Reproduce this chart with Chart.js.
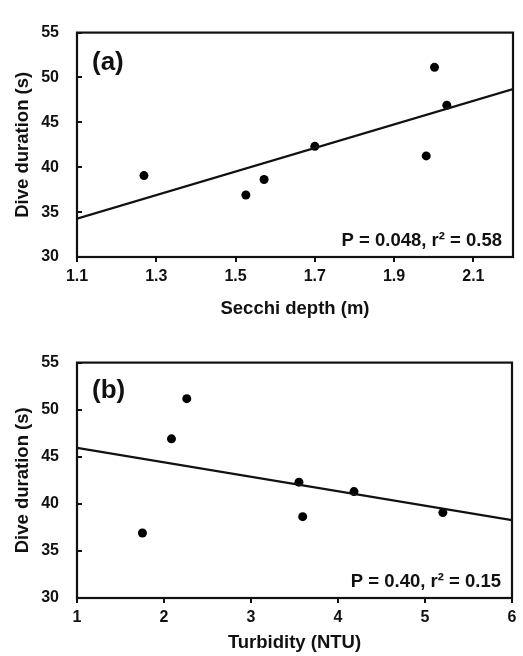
<!DOCTYPE html>
<html>
<head>
<meta charset="utf-8">
<script src="https://cdn.jsdelivr.net/npm/chart.js@4/dist/chart.umd.min.js"></script>
<style>
  html, body { margin: 0; padding: 0; background: #fff; }
  canvas { display: block; }
</style>
</head>
<body>
<canvas id="ca" width="523" height="330"></canvas>
<canvas id="cb" width="523" height="326"></canvas>
<script>
// ---- Data ----
const yTicks = [30, 35, 40, 45, 50, 55];

// Panel (a): Secchi depth vs dive duration
const secchiDepth = [1.269, 1.526, 1.572, 1.700, 1.981, 2.002, 2.033];
const diveDurationA = [39.07, 36.91, 38.63, 42.33, 41.26, 51.13, 46.91];
const fitA_x = [1.1, 2.2];
const fitA_y = [34.27, 48.70];
const xTicksA = [1.1, 1.3, 1.5, 1.7, 1.9, 2.1];
const statA = 'P = 0.048, r\u00B2 = 0.58';

// Panel (b): Turbidity vs dive duration
const turbidity = [1.752, 2.086, 2.262, 3.551, 3.594, 4.184, 5.205];
const diveDurationB = [36.9, 46.9, 51.17, 42.3, 38.64, 41.3, 39.07];
const fitB_x = [1, 6];
const fitB_y = [45.94, 38.27];
const xTicksB = [1, 2, 3, 4, 5, 6];
const statB = 'P = 0.40, r\u00B2 = 0.15';

const FONT = '"Liberation Sans", Arial, Helvetica, sans-serif';

const framePlugin = {
  id: 'frameAnnot',
  afterDatasetsDraw(chart, args, opts) {
    const ctx = chart.ctx;
    const a = chart.chartArea;
    ctx.save();
    ctx.strokeStyle = '#111';
    ctx.lineWidth = 2.2;
    ctx.strokeRect(a.left, a.top, a.right - a.left, a.bottom - a.top);
    ctx.fillStyle = '#111';
    ctx.font = 'bold 26px ' + FONT;
    ctx.textAlign = 'left';
    ctx.textBaseline = 'alphabetic';
    ctx.fillText(opts.label, a.left + 15, a.top + opts.labelDy);
    ctx.font = 'bold 18.5px ' + FONT;
    ctx.textAlign = 'right';
    ctx.fillText(opts.stat, a.right - 11, a.bottom - 10.7);
    ctx.restore();
  }
};

function makeChart(id, xs, ys, fx, fy, xTicks, xMin, xMax, xTitle, decimals, pad, xScaleH, titlePadB, label, labelDy, stat) {
  const pts = xs.map((x, i) => ({ x: x, y: ys[i] }));
  const fit = fx.map((x, i) => ({ x: x, y: fy[i] }));
  return new Chart(document.getElementById(id), {
    type: 'scatter',
    data: {
      datasets: [
        {
          type: 'line',
          data: fit,
          borderColor: '#111',
          borderWidth: 2.2,
          pointRadius: 0,
          fill: false,
          tension: 0
        },
        {
          data: pts,
          backgroundColor: '#000',
          borderWidth: 0,
          pointRadius: 4.5,
          pointHoverRadius: 4.5
        }
      ]
    },
    options: {
      responsive: false,
      animation: false,
      events: [],
      layout: { padding: pad },
      plugins: {
        legend: { display: false },
        tooltip: { enabled: false },
        frameAnnot: { label: label, labelDy: labelDy, stat: stat }
      },
      scales: {
        x: {
          type: 'linear',
          min: xMin,
          max: xMax,
          afterBuildTicks: (s) => { s.ticks = xTicks.map(v => ({ value: v })); },
          afterFit: (s) => { s.height = xScaleH; },
          grid: { display: true, drawOnChartArea: false, drawTicks: true, tickLength: 5, color: '#111', lineWidth: 2 },
          border: { display: true, color: '#111', width: 2 },
          ticks: {
            color: '#111',
            padding: 5,
            maxRotation: 0,
            autoSkip: false,
            font: { family: FONT, size: 16, weight: 'bold' },
            callback: (v) => Number(v).toFixed(decimals)
          },
          title: {
            display: true,
            text: xTitle,
            color: '#111',
            font: { family: FONT, size: 18.5, weight: 'bold' },
            padding: { top: 0, bottom: titlePadB }
          }
        },
        y: {
          type: 'linear',
          min: 30,
          max: 55,
          afterBuildTicks: (s) => { s.ticks = yTicks.map(v => ({ value: v })); },
          afterFit: (s) => { s.width = 77; },
          grid: { display: true, drawOnChartArea: false, drawTicks: true, tickLength: -5, color: '#111', lineWidth: 2 },
          border: { display: true, color: '#111', width: 2 },
          ticks: {
            color: '#111',
            padding: 23,
            autoSkip: false,
            font: { family: FONT, size: 16, weight: 'bold' }
          },
          title: {
            display: true,
            text: 'Dive duration (s)',
            color: '#111',
            font: { family: FONT, size: 18.5, weight: 'bold' },
            padding: { top: 12, bottom: 0 }
          }
        }
      }
    },
    plugins: [framePlugin]
  });
}

makeChart('ca', secchiDepth, diveDurationA, fitA_x, fitA_y, xTicksA, 1.1, 2.2, 'Secchi depth (m)', 1,
  { left: 0, right: 10, top: 14, bottom: 0 }, 73, 10, '(a)', 37.5, statA);
makeChart('cb', turbidity, diveDurationB, fitB_x, fitB_y, xTicksB, 1, 6, 'Turbidity (NTU)', 0,
  { left: 0, right: 11, top: 18, bottom: 0 }, 58, 2, '(b)', 35.5, statB);
</script>
</body>
</html>
